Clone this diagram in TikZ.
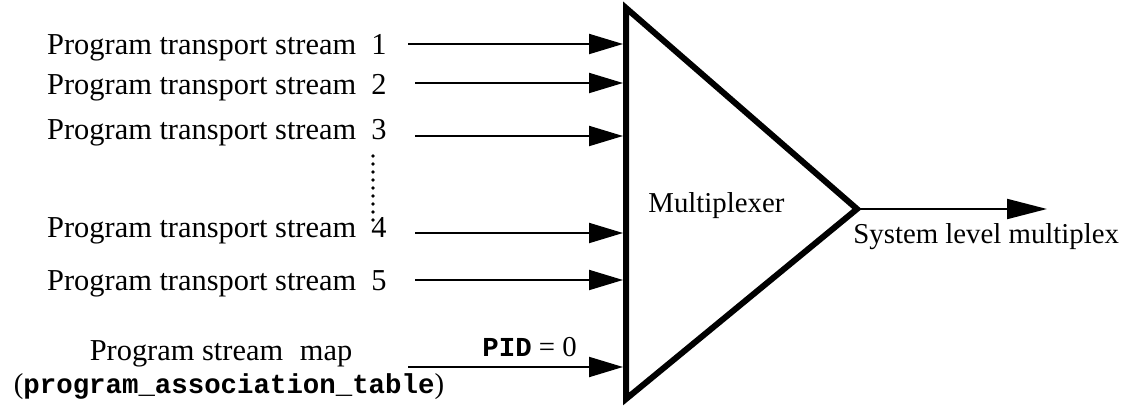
\documentclass[tikz,border=0pt]{standalone}
\usepackage{fontspec}
\setmainfont{Liberation Serif}
\setmonofont{Liberation Mono}
\usetikzlibrary{arrows.meta}
\newcommand{\codetext}[1]{\texttt{\bfseries\fontsize{13.7}{16}\selectfont #1}}
\begin{document}
\begin{tikzpicture}[x=0.5pt,y=-0.5pt,
  lbl/.style={font=\fontsize{14.4}{16}\selectfont, inner sep=0pt},
  inlbl/.style={font=\fontsize{15.2}{16}\selectfont, inner sep=0pt},
  inarrow/.style={line width=1pt,-{Triangle[length=17pt,width=10pt]}},
  outarrow/.style={line width=1pt,-{Triangle[length=20pt,width=10pt]}},
  mux/.style={line width=3pt,line join=miter},
  dots/.style={line width=1.8pt,line cap=round,dash pattern=on 0pt off 4pt}]
\useasboundingbox (0,0) rectangle (1124,406);
% multiplexer triangle
\coordinate (tl) at (626,8);
\coordinate (bl) at (626,399);
\coordinate (apex) at (857,209);
\draw[mux] (tl) -- (bl) -- (apex) -- cycle;
\node[lbl,anchor=base west] (mx) at (648,213) {Multiplexer};
% inputs
\node[inlbl,anchor=base east] (s1) at (387,55) {Program transport stream\hspace{0.5em}1};
\node[inlbl,anchor=base east] (s2) at (387,95) {Program transport stream\hspace{0.5em}2};
\node[inlbl,anchor=base east] (s3) at (387,140) {Program transport stream\hspace{0.5em}3};
\node[inlbl,anchor=base east] (s4) at (387,238) {Program transport stream\hspace{0.5em}4};
\node[inlbl,anchor=base east] (s5) at (387,291) {Program transport stream\hspace{0.5em}5};
\node[inlbl,anchor=base] (pm) at (221,360) {Program stream\hspace{0.55em}map};
\node[lbl,anchor=base] (pat) at (229,393) {(\codetext{program\_association\_table})};
\node[lbl,anchor=base west] (pid) at (482,357) {\codetext{PID} = 0};
% connectors
\coordinate (a1) at (408,44);  \coordinate (b1) at (623,44);
\coordinate (a2) at (415,83);  \coordinate (b2) at (623,83);
\coordinate (a3) at (415,136); \coordinate (b3) at (623,136);
\coordinate (a4) at (415,233); \coordinate (b4) at (623,233);
\coordinate (a5) at (415,280); \coordinate (b5) at (623,280);
\coordinate (a6) at (408,367); \coordinate (b6) at (623,367);
\foreach \i in {1,...,6} \draw[inarrow] (a\i) -- (b\i);
\coordinate (out) at (1047,209);
\draw[outarrow] (apex) -- (out);
\node[lbl,anchor=base west] (slm) at (853,243) {System level multiplex};
% dotted continuation
\coordinate (d1) at (373,156);
\coordinate (d2) at (373,220);
\draw[dots] (d1) -- (d2);
\end{tikzpicture}
\end{document}
